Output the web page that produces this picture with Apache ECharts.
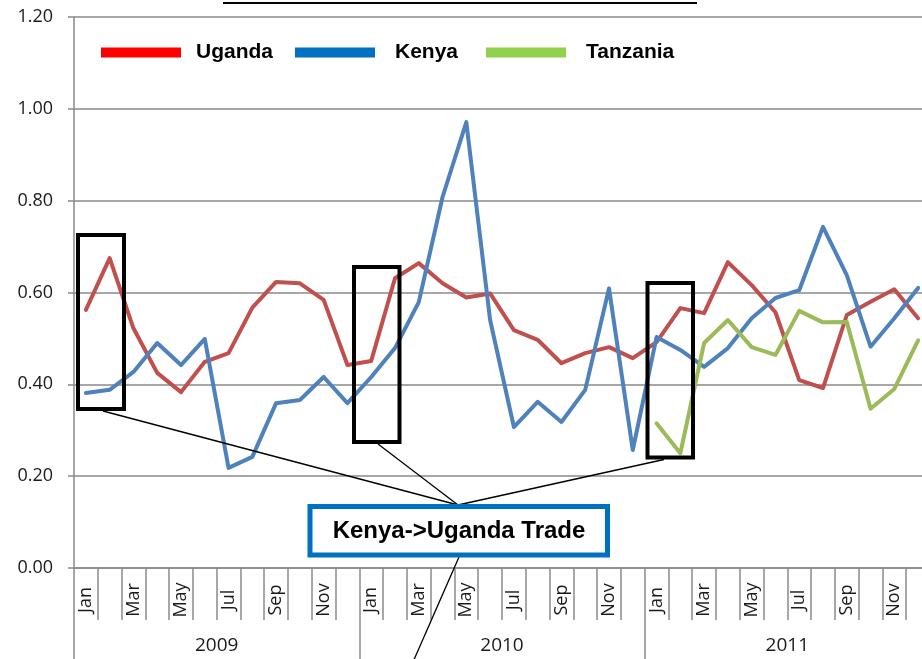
<!DOCTYPE html>
<html><head><meta charset="utf-8">
<script src="https://cdn.jsdelivr.net/npm/echarts@6/dist/echarts.min.js"></script>
<style>html,body{margin:0;padding:0;background:#fff}#c{width:922px;height:659px}</style>
</head><body><div id="c"></div>
<script>
const years = ['2009', '2010', '2011'];
const months = ['Jan','Feb','Mar','Apr','May','Jun','Jul','Aug','Sep','Oct','Nov','Dec'];
const seriesNames = ['Uganda', 'Kenya', 'Tanzania'];
const uganda = [
  0.562, 0.675, 0.522, 0.425, 0.383, 0.449, 0.468, 0.567, 0.623, 0.620, 0.584, 0.442,
  0.451, 0.631, 0.664, 0.620, 0.589, 0.598, 0.518, 0.497, 0.446, 0.468, 0.481, 0.457,
  0.492, 0.566, 0.555, 0.666, 0.616, 0.557, 0.409, 0.392, 0.551, 0.580, 0.607, 0.544
];
const kenya = [
  0.381, 0.388, 0.427, 0.490, 0.442, 0.499, 0.218, 0.242, 0.359, 0.366, 0.416, 0.359,
  0.416, 0.479, 0.579, 0.808, 0.971, 0.540, 0.307, 0.362, 0.318, 0.388, 0.609, 0.257,
  0.503, 0.475, 0.438, 0.479, 0.544, 0.588, 0.605, 0.743, 0.638, 0.482, 0.544, 0.610
];
const tanzania = [
  null, null, null, null, null, null, null, null, null, null, null, null,
  null, null, null, null, null, null, null, null, null, null, null, null,
  0.315, 0.250, 0.490, 0.540, 0.481, 0.464, 0.560, 0.535, 0.536, 0.347, 0.390, 0.496
];
const annotationText = 'Kenya->Uganda Trade';

const categories = [];
years.forEach(y => months.forEach(m => categories.push(m + '|' + y)));

const lineColors = ['#C0504D', '#4F81BD', '#9BBB59'];
const legendColors = ['#FF0000', '#0070C0', '#92D050'];
const legendLeft = [101, 295, 486];
const legendPad = [10, 15, 15];
const gridColor = '#8a8a8a';
const labelFont = '"Open Sans", "Liberation Sans", sans-serif';
const boldFont = '"Liberation Sans", Arial, sans-serif';

const chart = echarts.init(document.getElementById('c'), null, {renderer: 'canvas'});

const legends = seriesNames.map((n, i) => ({
  data: [{name: n, itemStyle: {color: legendColors[i]}, lineStyle: {color: legendColors[i], width: 0}}],
  left: legendLeft[i], top: 42, padding: 0,
  icon: 'rect', itemWidth: 80, itemHeight: 10,
  textStyle: {fontFamily: boldFont, fontWeight: 'bold', fontSize: 21, color: '#000', lineHeight: 20, padding: [0, 0, 0, legendPad[i]]},
  selectedMode: false
}));

const dataSets = [uganda, kenya, tanzania];

chart.setOption({
  animation: false,
  backgroundColor: '#fff',
  legend: legends,
  grid: {left: 74, top: 17, width: 856, height: 551, containLabel: false, outerBoundsMode: 'none'},
  xAxis: [{
    type: 'category', data: categories, boundaryGap: true, position: 'bottom',
    axisLine: {show: true, lineStyle: {color: gridColor, width: 1.5}},
    axisTick: {show: true, interval: 0, length: 52, lineStyle: {color: gridColor, width: 1.5}},
    axisLabel: {interval: 1, rotate: 90, margin: 32, align: 'center', verticalAlign: 'middle',
      fontFamily: labelFont, fontSize: 18, color: '#1a1a1a', hideOverlap: false,
      formatter: v => v.split('|')[0]},
    splitLine: {show: false}
  }, {
    type: 'category', data: years, boundaryGap: true, position: 'bottom', offset: 0,
    axisLine: {show: false},
    axisTick: {show: true, interval: 0, length: 92, lineStyle: {color: gridColor, width: 1.5}},
    axisLabel: {interval: 0, margin: 68, fontFamily: labelFont, fontSize: 19, color: '#1a1a1a'},
    splitLine: {show: false}
  }],
  yAxis: {
    type: 'value', min: 0, max: 1.2, interval: 0.2,
    axisLine: {show: true, lineStyle: {color: gridColor, width: 1.5}},
    axisTick: {show: true, length: 6, lineStyle: {color: gridColor, width: 1.5}},
    axisLabel: {margin: 21, fontFamily: labelFont, fontSize: 18, color: '#1a1a1a', formatter: v => v.toFixed(2)},
    splitLine: {show: true, lineStyle: {color: gridColor, width: 1.5}}
  },
  series: seriesNames.map((n, i) => ({
    name: n, type: 'line', xAxisIndex: 0, data: dataSets[i],
    symbol: 'none', showSymbol: false, connectNulls: false,
    lineStyle: {color: lineColors[i], width: 4, join: 'round', cap: 'round'},
    itemStyle: {color: lineColors[i]}
  })),
  graphic: [
    {type: 'line', shape: {x1: 223, y1: 3, x2: 697, y2: 3}, style: {stroke: '#000', lineWidth: 2}, z: 100},
    {type: 'rect', shape: {x: 78, y: 235, width: 46, height: 174}, style: {fill: 'none', stroke: '#000', lineWidth: 4}, z: 100},
    {type: 'rect', shape: {x: 354, y: 267, width: 45.5, height: 175}, style: {fill: 'none', stroke: '#000', lineWidth: 4}, z: 100},
    {type: 'rect', shape: {x: 647.5, y: 283, width: 45.5, height: 174.5}, style: {fill: 'none', stroke: '#000', lineWidth: 4}, z: 100},
    {type: 'line', shape: {x1: 103, y1: 411, x2: 458, y2: 505}, style: {stroke: '#000', lineWidth: 1.3}, z: 100},
    {type: 'line', shape: {x1: 378, y1: 444, x2: 458, y2: 505}, style: {stroke: '#000', lineWidth: 1.3}, z: 100},
    {type: 'line', shape: {x1: 664, y1: 459.5, x2: 458, y2: 505}, style: {stroke: '#000', lineWidth: 1.3}, z: 100},
    {type: 'line', shape: {x1: 459, y1: 557, x2: 413, y2: 662}, style: {stroke: '#000', lineWidth: 1.3}, z: 100},
    {type: 'rect', shape: {x: 310, y: 506.5, width: 297.5, height: 48.5}, style: {fill: '#fff', stroke: '#0070C0', lineWidth: 5}, z: 101},
    {type: 'text', x: 459, y: 531.5, style: {text: annotationText, fontFamily: boldFont, fontWeight: 'bold', fontSize: 24, fill: '#000', align: 'center', verticalAlign: 'middle'}, z: 102}
  ]
});
</script>
</body></html>
